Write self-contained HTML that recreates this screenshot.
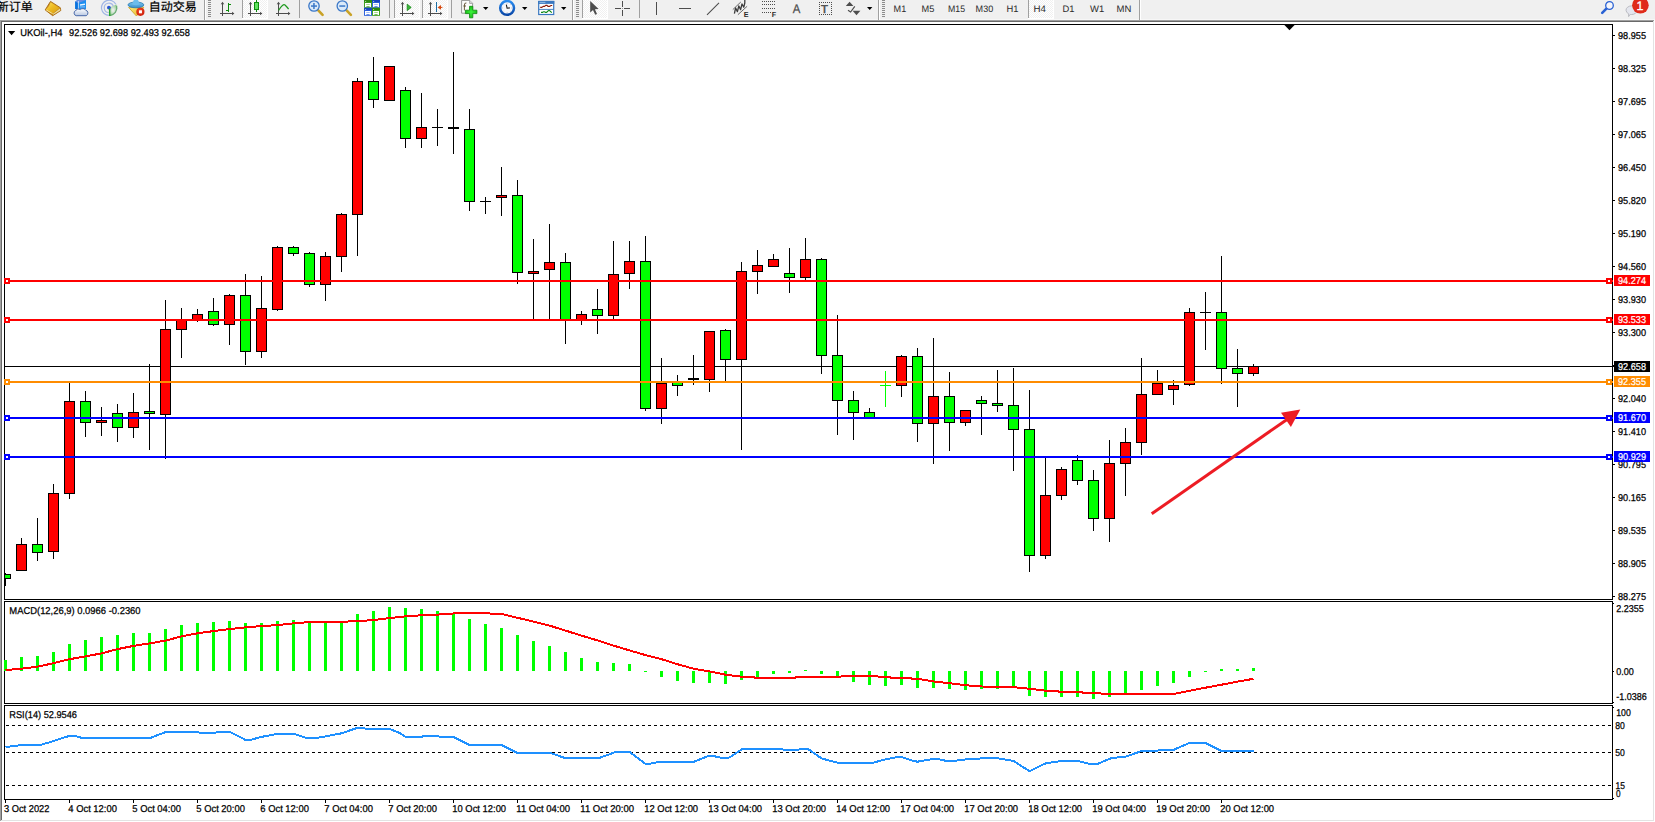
<!DOCTYPE html>
<html lang="zh"><head><meta charset="utf-8"><title>UKOil-,H4</title>
<style>
html,body{margin:0;padding:0;background:#f0f0f0;overflow:hidden}
body{width:1655px;height:822px;position:relative;font-family:"Liberation Sans", "Noto Sans CJK SC", sans-serif}
svg{position:absolute;left:0;top:0;display:block}
text{font-family:"Liberation Sans", "Noto Sans CJK SC", sans-serif;text-rendering:geometricPrecision}
.ax{font-size:9.9px;fill:#000;stroke:#000;stroke-width:0.25px}
.lb{font-size:9.9px;fill:#fff;stroke:#fff;stroke-width:0.2px}
.dt{font-size:9.9px;fill:#000;stroke:#000;stroke-width:0.25px}
.tf{font-size:9.4px;fill:#2a2a2a}
.cn{font-size:12px;fill:#000;stroke:#000;stroke-width:0.2px}
.ce{shape-rendering:crispEdges}
</style></head><body>
<div id="toolbar-strip" style="position:absolute;left:0;top:0;width:1655px;height:20px;overflow:hidden;background:#f0f0f0">
<svg id="toolbar-svg" width="1655" height="20" viewBox="0 0 1655 20">
<rect class="ce" x="0" y="19" width="1655" height="1" fill="#f7f7f7"/>
<g id="toolbar">
<text class="cn" x="-3.2" y="10.7">新订单</text>
<text class="cn" x="148.7" y="10.7">自动交易</text>
<defs><linearGradient id="gbook" x1="0" y1="0" x2="1" y2="1"><stop offset="0" stop-color="#fbe068"/><stop offset="0.45" stop-color="#eebc22"/><stop offset="1" stop-color="#d89a14"/></linearGradient><linearGradient id="gcloud" x1="0" y1="0" x2="0" y2="1"><stop offset="0" stop-color="#ffffff"/><stop offset="1" stop-color="#b9c8e2"/></linearGradient><radialGradient id="gsig" cx="0.5" cy="0.5" r="0.5"><stop offset="0.2" stop-color="#3aa83a" stop-opacity="0.05"/><stop offset="1" stop-color="#3aa83a" stop-opacity="0.5"/></radialGradient><linearGradient id="ghat" x1="0" y1="0" x2="0" y2="1"><stop offset="0" stop-color="#7cc4ee"/><stop offset="1" stop-color="#3a90cc"/></linearGradient><linearGradient id="gyel" x1="0" y1="0" x2="1" y2="1"><stop offset="0" stop-color="#fbe878"/><stop offset="1" stop-color="#e8b828"/></linearGradient><radialGradient id="gred" cx="0.45" cy="0.35" r="0.7"><stop offset="0" stop-color="#f44a28"/><stop offset="1" stop-color="#c81a08"/></radialGradient></defs>
<g id="ic-book"><path d="M50.5,1.4 L60.3,7.7 L60.8,10.5 L52.7,15.7 L45.2,9.9 Z" fill="#c48a18" stroke="#a8680e" stroke-width="0.9" stroke-linejoin="round"/><path d="M53.4,13.4 L60,8.6 L60.4,10.3 L52.8,15.1 Z" fill="#ecdca0"/><path d="M50.7,2.2 L59.6,7.9 L52.9,13.2 L46,9.6 Q49.4,6.4 50.7,2.2 Z" fill="url(#gbook)"/><path d="M46.2,9.9 L52.6,13.6" stroke="#fbe99a" stroke-width="1" fill="none"/></g>
<g id="ic-server"><path d="M75.2,1.6 L77.6,0 L86,0 L86,9 L75.2,9 Z" fill="#1e8ef0"/><path d="M75.2,1.6 L78.4,3 L78.4,9.4 L75.2,9 Z" fill="#0a72dc"/><path d="M75.2,1.6 L77.6,0 L86,0 L78.4,3 Z" fill="#6a8ee0"/><path d="M78.4,1 L78.4,9" stroke="#d8ecff" stroke-width="0.8"/><rect x="80" y="4" width="5" height="1.5" fill="#e8f4ff" transform="skewY(-8) translate(0,11.4)"/><rect x="80" y="6.4" width="5" height="1" fill="#8cc4f8"/><path d="M76.2,15.7 A2.8,2.8 0 0 1 75.8,10.4 A3.2,3 0 0 1 80.4,9.6 A3.2,3 0 0 1 85.6,10.2 A2.9,2.9 0 0 1 86.2,15.7 Z" fill="url(#gcloud)" stroke="#4868a8" stroke-width="1"/></g>
<g id="ic-signal" fill="none"><path d="M109,7.8 L109,15.9 A8.1,8.1 0 0 0 116.4,4.4 Z" fill="url(#gsig)"/><path d="M109,15.4 A7.6,7.6 0 1 1 115.8,4.2" stroke="#5f86dc" stroke-width="1.2" opacity="0.55"/><path d="M108.6,12.5 A4.7,4.7 0 1 1 113.3,6" stroke="#6a8cdc" stroke-width="1.2" opacity="0.55"/><path d="M109.6,15.6 A7.8,7.8 0 0 0 116.7,6" stroke="#4a9a5a" stroke-width="1.2" opacity="0.7"/><circle cx="108.9" cy="7.6" r="1.9" fill="#2c58d0" stroke="none"/><path d="M109.6,8.4 L109.7,15.9" stroke="#27a32c" stroke-width="1.4"/></g>
<g id="ic-expert"><path d="M128.6,7.4 L143.8,7.2 L140.8,11.6 L136.4,16 Z" fill="url(#gyel)" stroke="#c8a028" stroke-width="0.8" stroke-linejoin="round"/><ellipse cx="135.9" cy="4.9" rx="7.9" ry="2.9" fill="url(#ghat)" stroke="#2c7cb4" stroke-width="0.8"/><path d="M132.2,4.6 Q133,1.6 134,-0.6 L137.8,-0.6 Q138.8,1.6 139.6,4.6 Q135.9,5.8 132.2,4.6 Z" fill="#6cbcec"/><circle cx="140.4" cy="11.8" r="4.1" fill="url(#gred)"/><rect x="138.95" y="10.3" width="3" height="3" fill="#fff"/></g>
<defs><pattern id="chk" width="2" height="2" patternUnits="userSpaceOnUse"><rect width="2" height="2" fill="#ffffff"/><rect x="0" y="0" width="1" height="1" fill="#f0f0f0"/><rect x="1" y="1" width="1" height="1" fill="#f0f0f0"/></pattern></defs>
<rect class="ce" x="204" y="0" width="1" height="20" fill="#a0a0a0"/><rect class="ce" x="205" y="0" width="1" height="20" fill="#ffffff"/>
<g class="ce" fill="#8c8c8c"><rect x="208" y="0" width="3" height="1"/><rect x="208" y="2" width="3" height="1"/><rect x="208" y="4" width="3" height="1"/><rect x="208" y="6" width="3" height="1"/><rect x="208" y="8" width="3" height="1"/><rect x="208" y="10" width="3" height="1"/><rect x="208" y="12" width="3" height="1"/><rect x="208" y="14" width="3" height="1"/><rect x="208" y="16" width="3" height="1"/></g>
<g class="ce" fill="#4d4d4d"><rect x="222" y="3" width="1" height="13"/><rect x="220" y="13" width="14" height="1"/></g>
<polygon points="222.5,1.8 220.7,4.2 224.3,4.2" fill="#4d4d4d"/>
<polygon points="234.4,13.5 232.0,11.7 232.0,15.3" fill="#4d4d4d"/>
<g class="ce" fill="#0c8c0c"><rect x="228" y="3" width="1" height="9"/><rect x="229" y="4" width="2" height="1"/><rect x="226" y="10" width="2" height="1"/></g>
<g class="ce"><rect x="243" y="0" width="24" height="18" fill="url(#chk)"/><rect x="242" y="0" width="1" height="18" fill="#a0a0a0"/><rect x="267" y="0" width="1" height="19" fill="#fff"/><rect x="242" y="18" width="25" height="1" fill="#fff"/></g>
<g class="ce" fill="#4d4d4d"><rect x="250" y="3" width="1" height="13"/><rect x="248" y="13" width="14" height="1"/></g>
<polygon points="250.5,1.8 248.7,4.2 252.3,4.2" fill="#4d4d4d"/>
<polygon points="262.4,13.5 260.0,11.7 260.0,15.3" fill="#4d4d4d"/>
<g class="ce"><rect x="256" y="0" width="1" height="12" fill="#0c8c0c"/><rect x="254" y="2" width="5" height="8" fill="#0c8c0c"/><rect x="255" y="3" width="3" height="6" fill="#5fe25f"/></g>
<g class="ce" fill="#4d4d4d"><rect x="278" y="3" width="1" height="13"/><rect x="276" y="13" width="14" height="1"/></g>
<polygon points="278.5,1.8 276.7,4.2 280.3,4.2" fill="#4d4d4d"/>
<polygon points="290.4,13.5 288.0,11.7 288.0,15.3" fill="#4d4d4d"/>
<path d="M278.6,10.4 Q283,3.2 285,5 T288.6,9.2" fill="none" stroke="#1f9a1f" stroke-width="1.2"/>
<rect class="ce" x="299" y="0" width="1" height="18" fill="#a0a0a0"/>
<line x1="317.8" y1="9.8" x2="322.6" y2="14.8" stroke="#c9a227" stroke-width="2.6" stroke-linecap="round"/>
<circle cx="314.0" cy="6" r="5.2" fill="#dbeaf9" stroke="#3b78c8" stroke-width="1.3"/>
<rect x="311.0" y="5.3" width="6" height="1.5" fill="#3b78c8"/>
<rect x="313.2" y="3" width="1.5" height="6" fill="#3b78c8"/>
<line x1="346.1" y1="9.8" x2="350.9" y2="14.8" stroke="#c9a227" stroke-width="2.6" stroke-linecap="round"/>
<circle cx="342.3" cy="6" r="5.2" fill="#dbeaf9" stroke="#3b78c8" stroke-width="1.3"/>
<rect x="339.3" y="5.3" width="6" height="1.5" fill="#3b78c8"/>
<rect x="364" y="-0.2" width="8" height="8" fill="#3f9f1f"/><rect x="364" y="-0.2" width="8" height="2.4" fill="#2c8a0e"/>
<rect x="365.0" y="3.0" width="6" height="4" fill="#fff"/><rect x="366.2" y="4.2" width="3.6" height="0.8" fill="#8fd06a"/><rect x="366.4" y="6.3" width="3.2" height="0.9" fill="#3f9f1f"/><rect x="365.2" y="1.0" width="0.9" height="0.9" fill="#d8ecd0"/>
<rect x="372" y="-0.2" width="8" height="8" fill="#2f62dc"/><rect x="372" y="-0.2" width="8" height="2.4" fill="#1846c0"/>
<rect x="373.0" y="3.0" width="6" height="4" fill="#fff"/><rect x="374.2" y="4.2" width="3.6" height="0.8" fill="#8fb0f0"/><rect x="374.4" y="6.3" width="3.2" height="0.9" fill="#2f62dc"/><rect x="373.2" y="1.0" width="0.9" height="0.9" fill="#d8ecd0"/>
<rect x="364" y="7.8" width="8" height="8" fill="#2f62dc"/><rect x="364" y="7.8" width="8" height="2.4" fill="#1846c0"/>
<rect x="365.0" y="11.0" width="6" height="4" fill="#fff"/><rect x="366.2" y="12.2" width="3.6" height="0.8" fill="#8fb0f0"/><rect x="366.4" y="14.3" width="3.2" height="0.9" fill="#2f62dc"/><rect x="365.2" y="9.0" width="0.9" height="0.9" fill="#d8ecd0"/>
<rect x="372" y="7.8" width="8" height="8" fill="#3f9f1f"/><rect x="372" y="7.8" width="8" height="2.4" fill="#2c8a0e"/>
<rect x="373.0" y="11.0" width="6" height="4" fill="#fff"/><rect x="374.2" y="12.2" width="3.6" height="0.8" fill="#8fd06a"/><rect x="374.4" y="14.3" width="3.2" height="0.9" fill="#3f9f1f"/><rect x="373.2" y="9.0" width="0.9" height="0.9" fill="#d8ecd0"/>
<rect class="ce" x="389" y="0" width="1" height="18" fill="#a0a0a0"/>
<g class="ce"><rect x="395" y="0" width="24" height="18" fill="url(#chk)"/><rect x="394" y="0" width="1" height="18" fill="#a0a0a0"/><rect x="419" y="0" width="1" height="19" fill="#fff"/><rect x="394" y="18" width="25" height="1" fill="#fff"/></g>
<g class="ce" fill="#4d4d4d"><rect x="402" y="3" width="1" height="13"/><rect x="400" y="13" width="14" height="1"/></g>
<polygon points="402.5,1.8 400.7,4.2 404.3,4.2" fill="#4d4d4d"/>
<polygon points="414.4,13.5 412.0,11.7 412.0,15.3" fill="#4d4d4d"/>
<polygon points="407.2,4.2 407.2,10.6 411.2,7.4" fill="#39b539" stroke="#168a16" stroke-width="0.8"/>
<g class="ce"><rect x="423" y="0" width="24" height="18" fill="url(#chk)"/><rect x="422" y="0" width="1" height="18" fill="#a0a0a0"/><rect x="447" y="0" width="1" height="19" fill="#fff"/><rect x="422" y="18" width="25" height="1" fill="#fff"/></g>
<g class="ce" fill="#4d4d4d"><rect x="430" y="3" width="1" height="13"/><rect x="428" y="13" width="14" height="1"/></g>
<polygon points="430.5,1.8 428.7,4.2 432.3,4.2" fill="#4d4d4d"/>
<polygon points="442.4,13.5 440.0,11.7 440.0,15.3" fill="#4d4d4d"/>
<rect class="ce" x="436" y="2" width="1" height="10" fill="#1c6ea4"/>
<polygon points="437.6,7.4 441,5 441,9.8" fill="#d64a10"/><rect x="440" y="6.9" width="2.4" height="1" fill="#d64a10"/>
<rect class="ce" x="451" y="0" width="1" height="18" fill="#a0a0a0"/>
<path d="M461.6,0.4 L469.6,0.4 L472.6,3.4 L472.6,13.2 L461.6,13.2 z" fill="#fbfbfb" stroke="#8a8a8a" stroke-width="0.9"/><path d="M469.6,0.4 L469.6,3.4 L472.6,3.4" fill="#e0e0e0" stroke="#8a8a8a" stroke-width="0.7"/>
<path d="M466.4,3 Q464.4,2.6 464.4,5 L464.4,10.4 M463.4,6 L466,6" fill="none" stroke="#5a4a2a" stroke-width="0.9"/>
<defs><radialGradient id="gplus" cx="0.5" cy="0.5" r="0.6"><stop offset="0" stop-color="#3cf23c"/><stop offset="1" stop-color="#12b812"/></radialGradient><linearGradient id="gclock" x1="0" y1="0" x2="0" y2="1"><stop offset="0" stop-color="#2a8cf0"/><stop offset="1" stop-color="#0a48a8"/></linearGradient></defs>
<path d="M465.4,10.2 h4.1 v-3.9 h3.3 v3.9 h4.1 v3.4 h-4.1 v4.2 h-3.3 v-4.2 h-4.1 z" fill="url(#gplus)" stroke="#0c8a0c" stroke-width="0.8"/>
<polygon points="483.0,7 488.4,7 485.7,10" fill="#000"/>
<rect x="505.6" y="-1" width="3" height="2.4" fill="#1a78d8"/>
<circle cx="507.1" cy="7.9" r="6.9" fill="#f6f7fb" stroke="url(#gclock)" stroke-width="2.5"/>
<g fill="#9a9a9a"><circle cx="507.1" cy="3.4" r="0.45"/><circle cx="507.1" cy="12.4" r="0.45"/><circle cx="502.6" cy="7.9" r="0.45"/><circle cx="511.6" cy="7.9" r="0.45"/><circle cx="503.9" cy="4.7" r="0.35"/><circle cx="510.3" cy="4.7" r="0.35"/><circle cx="503.9" cy="11.1" r="0.35"/><circle cx="510.3" cy="11.1" r="0.35"/></g>
<path d="M506.3,4.6 L507.1,8.2 L509.8,7.9" fill="none" stroke="#1a1a1a" stroke-width="1.1"/>
<polygon points="522.0,7 527.4,7 524.7,10" fill="#000"/>
<rect x="538.7" y="1.5" width="15" height="13" fill="#fff" stroke="#3a78c0" stroke-width="1.2"/><rect x="538.1" y="0.9" width="16.2" height="3" fill="#3a78c0"/><rect x="539.4" y="1.9" width="6" height="0.8" fill="#a8ccf0"/>
<rect x="538.7" y="8.9" width="15" height="0.9" fill="#3a78c0"/>
<path d="M540.2,7.4 L541.8,7.4 L543.3,6.4 L544.5,6.4 L545.8,5.4 L547,5.4 L548,6.4 L549.5,6.4 L551,5.5 L552.2,5.5" fill="none" stroke="#8a1a0a" stroke-width="1.1"/>
<path d="M541,12.4 L542.5,12.4 L543.5,11.7 L544.5,11.7 L545.5,12.4 L546.5,12.4 L548,11 L549,10.4 L550,11 L551.8,12.6" fill="none" stroke="#108a18" stroke-width="1.1"/>
<polygon points="561.0,7 566.4,7 563.7,10" fill="#000"/>
<rect class="ce" x="572" y="0" width="1" height="20" fill="#a0a0a0"/><rect class="ce" x="573" y="0" width="1" height="20" fill="#ffffff"/>
<g class="ce" fill="#8c8c8c"><rect x="576" y="0" width="3" height="1"/><rect x="576" y="2" width="3" height="1"/><rect x="576" y="4" width="3" height="1"/><rect x="576" y="6" width="3" height="1"/><rect x="576" y="8" width="3" height="1"/><rect x="576" y="10" width="3" height="1"/><rect x="576" y="12" width="3" height="1"/><rect x="576" y="14" width="3" height="1"/><rect x="576" y="16" width="3" height="1"/></g>
<g class="ce"><rect x="583" y="0" width="24" height="18" fill="url(#chk)"/><rect x="582" y="0" width="1" height="18" fill="#a0a0a0"/><rect x="607" y="0" width="1" height="19" fill="#fff"/><rect x="582" y="18" width="25" height="1" fill="#fff"/></g>
<polygon points="590.2,1 590.2,12.6 593,10 595.2,14.8 597,14 594.9,9.3 598.6,9.1" fill="#4d4d4d"/>
<g class="ce" fill="#4d4d4d"><rect x="622" y="1" width="1" height="6"/><rect x="622" y="10" width="1" height="6"/><rect x="615" y="8" width="6" height="1"/><rect x="624" y="8" width="6" height="1"/><rect x="622" y="8" width="1" height="1" fill="#9a9a9a"/></g>
<rect class="ce" x="639" y="0" width="1" height="18" fill="#a0a0a0"/>
<rect class="ce" x="656" y="2" width="1" height="13" fill="#4d4d4d"/>
<rect class="ce" x="679" y="8" width="12" height="1" fill="#4d4d4d"/>
<line x1="707" y1="14.9" x2="719" y2="2.9" stroke="#4d4d4d" stroke-width="1.1"/>
<g fill="none"><line x1="732.8" y1="9.6" x2="740.8" y2="2" stroke="#6a6a6a" stroke-width="1"/><line x1="737.9" y1="14.7" x2="747.1" y2="6.3" stroke="#6a6a6a" stroke-width="1"/><path d="M734.4,13.6 L735.6,8 L737.4,11.6 L738.8,6 L740.6,9.6 L742,4 L743.8,7.2 L744.8,3 L744.8,0" stroke="#3c3c3c" stroke-width="1.3" stroke-linejoin="round"/></g>
<text x="743.7" y="16.9" font-size="7.2" font-weight="bold" fill="#2a2a2a">E</text>
<g stroke="#4d4d4d" stroke-width="1" stroke-dasharray="1,1" class="ce"><line x1="762" y1="1.5" x2="776" y2="1.5"/><line x1="762" y1="4.5" x2="776" y2="4.5"/><line x1="762" y1="8.5" x2="776" y2="8.5"/><line x1="762" y1="12.5" x2="772" y2="12.5"/></g>
<text x="771.7" y="16.9" font-size="7.2" font-weight="bold" fill="#2a2a2a">F</text>
<text x="792.8" y="13" font-size="12.4" fill="#4d4d4d" stroke="#4d4d4d" stroke-width="0.25" textLength="7.6" lengthAdjust="spacingAndGlyphs">A</text>
<g class="ce" fill="#4d4d4d"><rect x="819" y="2" width="1" height="1"/><rect x="819" y="14" width="1" height="1"/><rect x="821" y="2" width="1" height="1"/><rect x="821" y="14" width="1" height="1"/><rect x="823" y="2" width="1" height="1"/><rect x="823" y="14" width="1" height="1"/><rect x="825" y="2" width="1" height="1"/><rect x="825" y="14" width="1" height="1"/><rect x="827" y="2" width="1" height="1"/><rect x="827" y="14" width="1" height="1"/><rect x="829" y="2" width="1" height="1"/><rect x="829" y="14" width="1" height="1"/><rect x="831" y="2" width="1" height="1"/><rect x="831" y="14" width="1" height="1"/><rect x="819" y="4" width="1" height="1"/><rect x="831" y="4" width="1" height="1"/><rect x="819" y="6" width="1" height="1"/><rect x="831" y="6" width="1" height="1"/><rect x="819" y="8" width="1" height="1"/><rect x="831" y="8" width="1" height="1"/><rect x="819" y="10" width="1" height="1"/><rect x="831" y="10" width="1" height="1"/><rect x="819" y="12" width="1" height="1"/><rect x="831" y="12" width="1" height="1"/></g>
<text x="820.9" y="12.9" font-size="11.4" fill="#4d4d4d" stroke="#4d4d4d" stroke-width="0.55">T</text>
<g fill="#4d4d4d"><polygon points="849.6,1.8 853.4,6.1 845.8,6.1"/><polygon points="856.5,15.2 852.6,10.7 860.4,10.7"/></g><path d="M848,10.2 L850.6,12 L854.8,6.4" fill="none" stroke="#4d4d4d" stroke-width="1.2"/>
<polygon points="867.0,7 872.4,7 869.7,10" fill="#000"/>
<rect class="ce" x="878" y="0" width="1" height="20" fill="#a0a0a0"/><rect class="ce" x="879" y="0" width="1" height="20" fill="#ffffff"/>
<g class="ce" fill="#8c8c8c"><rect x="882" y="0" width="3" height="1"/><rect x="882" y="2" width="3" height="1"/><rect x="882" y="4" width="3" height="1"/><rect x="882" y="6" width="3" height="1"/><rect x="882" y="8" width="3" height="1"/><rect x="882" y="10" width="3" height="1"/><rect x="882" y="12" width="3" height="1"/><rect x="882" y="14" width="3" height="1"/><rect x="882" y="16" width="3" height="1"/></g>
<g class="ce"><rect x="1029" y="0" width="24" height="18" fill="url(#chk)"/><rect x="1028" y="0" width="1" height="18" fill="#a0a0a0"/><rect x="1053" y="0" width="1" height="19" fill="#fff"/><rect x="1028" y="18" width="25" height="1" fill="#fff"/></g>
<text class="tf" x="893.6" y="11.8" textLength="12.6" lengthAdjust="spacingAndGlyphs">M1</text>
<text class="tf" x="921.6" y="11.8" textLength="12.8" lengthAdjust="spacingAndGlyphs">M5</text>
<text class="tf" x="948.0" y="11.8" textLength="17.0" lengthAdjust="spacingAndGlyphs">M15</text>
<text class="tf" x="975.6" y="11.8" textLength="17.6" lengthAdjust="spacingAndGlyphs">M30</text>
<text class="tf" x="1006.4" y="11.8" textLength="12.0" lengthAdjust="spacingAndGlyphs">H1</text>
<text class="tf" x="1033.6" y="11.8" textLength="12.4" lengthAdjust="spacingAndGlyphs">H4</text>
<text class="tf" x="1062.4" y="11.8" textLength="12.0" lengthAdjust="spacingAndGlyphs">D1</text>
<text class="tf" x="1090.0" y="11.8" textLength="14.2" lengthAdjust="spacingAndGlyphs">W1</text>
<text class="tf" x="1116.6" y="11.8" textLength="14.8" lengthAdjust="spacingAndGlyphs">MN</text>
<rect class="ce" x="1139" y="0" width="1" height="20" fill="#a0a0a0"/><rect class="ce" x="1140" y="0" width="1" height="20" fill="#ffffff"/>
<line x1="1606.4" y1="8.6" x2="1602.2" y2="12.9" stroke="#2a62d4" stroke-width="2.6" stroke-linecap="round"/><circle cx="1609.5" cy="5.5" r="3.8" fill="#f6f6fa" stroke="#2a62d4" stroke-width="1.3"/>
<path d="M1626,10.2 a5.6,4.3 0 1 1 5.6,4.3 q-1,0 -1.4,-0.1 l-1.6,2.2 l0.1,-2.8 a4.6,4.3 0 0 1 -2.7,-3.6 z" fill="#e4e6ee" stroke="#b4b6bc" stroke-width="0.9"/>
<circle cx="1640.4" cy="5.3" r="8.3" fill="#df2b1a"/>
<text x="1636.6" y="10" font-size="12.4" fill="#fff" stroke="#fff" stroke-width="0.3">1</text>
</g>
</svg></div>
<div id="chart-window" style="position:absolute;left:0;top:20px;width:1655px;height:802px;overflow:hidden;background:#fff">
<svg id="chart" width="1655" height="802" viewBox="0 20 1655 802">
<g class="ce">
<rect x="0" y="20" width="1655" height="802" fill="#ffffff"/>
<rect x="0" y="20" width="1654" height="1" fill="#a0a0a0"/>
<rect x="0" y="20" width="1" height="801" fill="#a0a0a0"/>
<rect x="1" y="21" width="1652" height="1" fill="#696969"/>
<rect x="1" y="21" width="1" height="799" fill="#696969"/>
<rect x="1653" y="21" width="1" height="800" fill="#e3e3e3"/>
<rect x="1" y="820" width="1653" height="1" fill="#e3e3e3"/>
</g>
<g class="ce" fill="#000">
<rect x="4" y="24" width="1" height="776"/>
<rect x="1612" y="24" width="1" height="776"/>
<rect x="4" y="24" width="1609" height="1"/>
<rect x="4" y="599" width="1609" height="1"/>
<rect x="4" y="601" width="1609" height="1"/>
<rect x="4" y="703" width="1609" height="1"/>
<rect x="4" y="705" width="1609" height="1"/>
<rect x="4" y="799" width="1609" height="1"/>
<rect x="4" y="600" width="1609" height="1" fill="#fff"/>
<rect x="4" y="704" width="1609" height="1" fill="#fff"/>
</g>
<polygon points="1284.4,25 1294.6,25 1289.5,30.2" fill="#000"/>
<rect class="ce" x="5" y="366" width="1609" height="1" fill="#000"/>
<g class="ce" id="candles">
<clipPath id="cp"><rect x="5" y="25" width="1607" height="574"/></clipPath>
<g clip-path="url(#cp)">
<rect x="5" y="573" width="1" height="13" fill="#000"/>
<rect x="0" y="574" width="11" height="5" fill="#000"/>
<rect x="1" y="575" width="9" height="3" fill="#00ff00"/>
<rect x="21" y="538" width="1" height="33" fill="#000"/>
<rect x="16" y="544" width="11" height="27" fill="#000"/>
<rect x="17" y="545" width="9" height="25" fill="#ff0000"/>
<rect x="37" y="518" width="1" height="43" fill="#000"/>
<rect x="32" y="544" width="11" height="9" fill="#000"/>
<rect x="33" y="545" width="9" height="7" fill="#00ff00"/>
<rect x="53" y="484" width="1" height="75" fill="#000"/>
<rect x="48" y="493" width="11" height="59" fill="#000"/>
<rect x="49" y="494" width="9" height="57" fill="#ff0000"/>
<rect x="69" y="383" width="1" height="116" fill="#000"/>
<rect x="64" y="401" width="11" height="93" fill="#000"/>
<rect x="65" y="402" width="9" height="91" fill="#ff0000"/>
<rect x="85" y="391" width="1" height="46" fill="#000"/>
<rect x="80" y="401" width="11" height="22" fill="#000"/>
<rect x="81" y="402" width="9" height="20" fill="#00ff00"/>
<rect x="101" y="407" width="1" height="29" fill="#000"/>
<rect x="96" y="420" width="11" height="3" fill="#000"/>
<rect x="97" y="421" width="9" height="1" fill="#ff0000"/>
<rect x="117" y="404" width="1" height="38" fill="#000"/>
<rect x="112" y="413" width="11" height="15" fill="#000"/>
<rect x="113" y="414" width="9" height="13" fill="#00ff00"/>
<rect x="133" y="393" width="1" height="45" fill="#000"/>
<rect x="128" y="412" width="11" height="16" fill="#000"/>
<rect x="129" y="413" width="9" height="14" fill="#ff0000"/>
<rect x="149" y="364" width="1" height="86" fill="#000"/>
<rect x="144" y="411" width="11" height="3" fill="#000"/>
<rect x="145" y="412" width="9" height="1" fill="#00ff00"/>
<rect x="165" y="300" width="1" height="159" fill="#000"/>
<rect x="160" y="329" width="11" height="86" fill="#000"/>
<rect x="161" y="330" width="9" height="84" fill="#ff0000"/>
<rect x="181" y="308" width="1" height="50" fill="#000"/>
<rect x="176" y="320" width="11" height="10" fill="#000"/>
<rect x="177" y="321" width="9" height="8" fill="#ff0000"/>
<rect x="197" y="309" width="1" height="13" fill="#000"/>
<rect x="192" y="314" width="11" height="7" fill="#000"/>
<rect x="193" y="315" width="9" height="5" fill="#ff0000"/>
<rect x="213" y="298" width="1" height="28" fill="#000"/>
<rect x="208" y="311" width="11" height="14" fill="#000"/>
<rect x="209" y="312" width="9" height="12" fill="#00ff00"/>
<rect x="229" y="294" width="1" height="51" fill="#000"/>
<rect x="224" y="295" width="11" height="30" fill="#000"/>
<rect x="225" y="296" width="9" height="28" fill="#ff0000"/>
<rect x="245" y="274" width="1" height="91" fill="#000"/>
<rect x="240" y="295" width="11" height="57" fill="#000"/>
<rect x="241" y="296" width="9" height="55" fill="#00ff00"/>
<rect x="261" y="276" width="1" height="82" fill="#000"/>
<rect x="256" y="308" width="11" height="44" fill="#000"/>
<rect x="257" y="309" width="9" height="42" fill="#ff0000"/>
<rect x="277" y="246" width="1" height="65" fill="#000"/>
<rect x="272" y="247" width="11" height="63" fill="#000"/>
<rect x="273" y="248" width="9" height="61" fill="#ff0000"/>
<rect x="293" y="246" width="1" height="10" fill="#000"/>
<rect x="288" y="247" width="11" height="7" fill="#000"/>
<rect x="289" y="248" width="9" height="5" fill="#00ff00"/>
<rect x="309" y="252" width="1" height="35" fill="#000"/>
<rect x="304" y="253" width="11" height="32" fill="#000"/>
<rect x="305" y="254" width="9" height="30" fill="#00ff00"/>
<rect x="325" y="252" width="1" height="49" fill="#000"/>
<rect x="320" y="256" width="11" height="29" fill="#000"/>
<rect x="321" y="257" width="9" height="27" fill="#ff0000"/>
<rect x="341" y="213" width="1" height="59" fill="#000"/>
<rect x="336" y="214" width="11" height="43" fill="#000"/>
<rect x="337" y="215" width="9" height="41" fill="#ff0000"/>
<rect x="357" y="78" width="1" height="178" fill="#000"/>
<rect x="352" y="81" width="11" height="134" fill="#000"/>
<rect x="353" y="82" width="9" height="132" fill="#ff0000"/>
<rect x="373" y="57" width="1" height="51" fill="#000"/>
<rect x="368" y="81" width="11" height="19" fill="#000"/>
<rect x="369" y="82" width="9" height="17" fill="#00ff00"/>
<rect x="389" y="66" width="1" height="35" fill="#000"/>
<rect x="384" y="66" width="11" height="35" fill="#000"/>
<rect x="385" y="67" width="9" height="33" fill="#ff0000"/>
<rect x="405" y="87" width="1" height="61" fill="#000"/>
<rect x="400" y="90" width="11" height="49" fill="#000"/>
<rect x="401" y="91" width="9" height="47" fill="#00ff00"/>
<rect x="421" y="93" width="1" height="55" fill="#000"/>
<rect x="416" y="127" width="11" height="12" fill="#000"/>
<rect x="417" y="128" width="9" height="10" fill="#ff0000"/>
<rect x="437" y="109" width="1" height="37" fill="#000"/>
<rect x="432" y="127" width="11" height="1" fill="#000"/>
<rect x="453" y="52" width="1" height="102" fill="#000"/>
<rect x="448" y="127" width="11" height="2" fill="#000"/>
<rect x="469" y="109" width="1" height="102" fill="#000"/>
<rect x="464" y="129" width="11" height="73" fill="#000"/>
<rect x="465" y="130" width="9" height="71" fill="#00ff00"/>
<rect x="485" y="197" width="1" height="17" fill="#000"/>
<rect x="480" y="201" width="11" height="1" fill="#000"/>
<rect x="501" y="167" width="1" height="49" fill="#000"/>
<rect x="496" y="195" width="11" height="3" fill="#000"/>
<rect x="497" y="196" width="9" height="1" fill="#ff0000"/>
<rect x="517" y="180" width="1" height="104" fill="#000"/>
<rect x="512" y="195" width="11" height="78" fill="#000"/>
<rect x="513" y="196" width="9" height="76" fill="#00ff00"/>
<rect x="533" y="239" width="1" height="80" fill="#000"/>
<rect x="528" y="271" width="11" height="3" fill="#000"/>
<rect x="529" y="272" width="9" height="1" fill="#ff0000"/>
<rect x="549" y="224" width="1" height="95" fill="#000"/>
<rect x="544" y="262" width="11" height="8" fill="#000"/>
<rect x="545" y="263" width="9" height="6" fill="#ff0000"/>
<rect x="565" y="253" width="1" height="91" fill="#000"/>
<rect x="560" y="262" width="11" height="58" fill="#000"/>
<rect x="561" y="263" width="9" height="56" fill="#00ff00"/>
<rect x="581" y="311" width="1" height="14" fill="#000"/>
<rect x="576" y="314" width="11" height="6" fill="#000"/>
<rect x="577" y="315" width="9" height="4" fill="#ff0000"/>
<rect x="597" y="289" width="1" height="45" fill="#000"/>
<rect x="592" y="309" width="11" height="7" fill="#000"/>
<rect x="593" y="310" width="9" height="5" fill="#00ff00"/>
<rect x="613" y="241" width="1" height="78" fill="#000"/>
<rect x="608" y="274" width="11" height="42" fill="#000"/>
<rect x="609" y="275" width="9" height="40" fill="#ff0000"/>
<rect x="629" y="241" width="1" height="48" fill="#000"/>
<rect x="624" y="261" width="11" height="13" fill="#000"/>
<rect x="625" y="262" width="9" height="11" fill="#ff0000"/>
<rect x="645" y="236" width="1" height="175" fill="#000"/>
<rect x="640" y="261" width="11" height="148" fill="#000"/>
<rect x="641" y="262" width="9" height="146" fill="#00ff00"/>
<rect x="661" y="358" width="1" height="66" fill="#000"/>
<rect x="656" y="383" width="11" height="26" fill="#000"/>
<rect x="657" y="384" width="9" height="24" fill="#ff0000"/>
<rect x="677" y="375" width="1" height="21" fill="#000"/>
<rect x="672" y="382" width="11" height="4" fill="#000"/>
<rect x="673" y="383" width="9" height="2" fill="#00ff00"/>
<rect x="693" y="355" width="1" height="30" fill="#000"/>
<rect x="688" y="378" width="11" height="2" fill="#000"/>
<rect x="709" y="331" width="1" height="61" fill="#000"/>
<rect x="704" y="331" width="11" height="49" fill="#000"/>
<rect x="705" y="332" width="9" height="47" fill="#ff0000"/>
<rect x="725" y="329" width="1" height="52" fill="#000"/>
<rect x="720" y="330" width="11" height="30" fill="#000"/>
<rect x="721" y="331" width="9" height="28" fill="#00ff00"/>
<rect x="741" y="262" width="1" height="188" fill="#000"/>
<rect x="736" y="271" width="11" height="89" fill="#000"/>
<rect x="737" y="272" width="9" height="87" fill="#ff0000"/>
<rect x="757" y="250" width="1" height="44" fill="#000"/>
<rect x="752" y="265" width="11" height="7" fill="#000"/>
<rect x="753" y="266" width="9" height="5" fill="#ff0000"/>
<rect x="773" y="254" width="1" height="13" fill="#000"/>
<rect x="768" y="259" width="11" height="8" fill="#000"/>
<rect x="769" y="260" width="9" height="6" fill="#ff0000"/>
<rect x="789" y="248" width="1" height="45" fill="#000"/>
<rect x="784" y="273" width="11" height="5" fill="#000"/>
<rect x="785" y="274" width="9" height="3" fill="#00ff00"/>
<rect x="805" y="238" width="1" height="42" fill="#000"/>
<rect x="800" y="259" width="11" height="19" fill="#000"/>
<rect x="801" y="260" width="9" height="17" fill="#ff0000"/>
<rect x="821" y="258" width="1" height="116" fill="#000"/>
<rect x="816" y="259" width="11" height="97" fill="#000"/>
<rect x="817" y="260" width="9" height="95" fill="#00ff00"/>
<rect x="837" y="315" width="1" height="120" fill="#000"/>
<rect x="832" y="355" width="11" height="46" fill="#000"/>
<rect x="833" y="356" width="9" height="44" fill="#00ff00"/>
<rect x="853" y="391" width="1" height="49" fill="#000"/>
<rect x="848" y="400" width="11" height="13" fill="#000"/>
<rect x="849" y="401" width="9" height="11" fill="#00ff00"/>
<rect x="869" y="408" width="1" height="10" fill="#000"/>
<rect x="864" y="412" width="11" height="6" fill="#000"/>
<rect x="865" y="413" width="9" height="4" fill="#00ff00"/>
<rect x="885" y="371" width="1" height="36" fill="#00ff00"/>
<rect x="880" y="385" width="11" height="1" fill="#00ff00"/>
<rect x="901" y="355" width="1" height="42" fill="#000"/>
<rect x="896" y="356" width="11" height="30" fill="#000"/>
<rect x="897" y="357" width="9" height="28" fill="#ff0000"/>
<rect x="917" y="348" width="1" height="94" fill="#000"/>
<rect x="912" y="356" width="11" height="68" fill="#000"/>
<rect x="913" y="357" width="9" height="66" fill="#00ff00"/>
<rect x="933" y="338" width="1" height="126" fill="#000"/>
<rect x="928" y="396" width="11" height="28" fill="#000"/>
<rect x="929" y="397" width="9" height="26" fill="#ff0000"/>
<rect x="949" y="372" width="1" height="79" fill="#000"/>
<rect x="944" y="396" width="11" height="27" fill="#000"/>
<rect x="945" y="397" width="9" height="25" fill="#00ff00"/>
<rect x="965" y="410" width="1" height="16" fill="#000"/>
<rect x="960" y="410" width="11" height="13" fill="#000"/>
<rect x="961" y="411" width="9" height="11" fill="#ff0000"/>
<rect x="981" y="396" width="1" height="39" fill="#000"/>
<rect x="976" y="400" width="11" height="4" fill="#000"/>
<rect x="977" y="401" width="9" height="2" fill="#00ff00"/>
<rect x="997" y="370" width="1" height="42" fill="#000"/>
<rect x="992" y="403" width="11" height="3" fill="#000"/>
<rect x="993" y="404" width="9" height="1" fill="#00ff00"/>
<rect x="1013" y="368" width="1" height="103" fill="#000"/>
<rect x="1008" y="405" width="11" height="25" fill="#000"/>
<rect x="1009" y="406" width="9" height="23" fill="#00ff00"/>
<rect x="1029" y="390" width="1" height="182" fill="#000"/>
<rect x="1024" y="429" width="11" height="127" fill="#000"/>
<rect x="1025" y="430" width="9" height="125" fill="#00ff00"/>
<rect x="1045" y="458" width="1" height="101" fill="#000"/>
<rect x="1040" y="495" width="11" height="61" fill="#000"/>
<rect x="1041" y="496" width="9" height="59" fill="#ff0000"/>
<rect x="1061" y="467" width="1" height="33" fill="#000"/>
<rect x="1056" y="469" width="11" height="27" fill="#000"/>
<rect x="1057" y="470" width="9" height="25" fill="#ff0000"/>
<rect x="1077" y="455" width="1" height="30" fill="#000"/>
<rect x="1072" y="460" width="11" height="21" fill="#000"/>
<rect x="1073" y="461" width="9" height="19" fill="#00ff00"/>
<rect x="1093" y="470" width="1" height="61" fill="#000"/>
<rect x="1088" y="480" width="11" height="39" fill="#000"/>
<rect x="1089" y="481" width="9" height="37" fill="#00ff00"/>
<rect x="1109" y="440" width="1" height="102" fill="#000"/>
<rect x="1104" y="463" width="11" height="56" fill="#000"/>
<rect x="1105" y="464" width="9" height="54" fill="#ff0000"/>
<rect x="1125" y="428" width="1" height="68" fill="#000"/>
<rect x="1120" y="442" width="11" height="22" fill="#000"/>
<rect x="1121" y="443" width="9" height="20" fill="#ff0000"/>
<rect x="1141" y="358" width="1" height="97" fill="#000"/>
<rect x="1136" y="394" width="11" height="49" fill="#000"/>
<rect x="1137" y="395" width="9" height="47" fill="#ff0000"/>
<rect x="1157" y="370" width="1" height="25" fill="#000"/>
<rect x="1152" y="383" width="11" height="12" fill="#000"/>
<rect x="1153" y="384" width="9" height="10" fill="#ff0000"/>
<rect x="1173" y="380" width="1" height="25" fill="#000"/>
<rect x="1168" y="385" width="11" height="5" fill="#000"/>
<rect x="1169" y="386" width="9" height="3" fill="#ff0000"/>
<rect x="1189" y="308" width="1" height="78" fill="#000"/>
<rect x="1184" y="312" width="11" height="73" fill="#000"/>
<rect x="1185" y="313" width="9" height="71" fill="#ff0000"/>
<rect x="1205" y="292" width="1" height="58" fill="#000"/>
<rect x="1200" y="312" width="11" height="1" fill="#000"/>
<rect x="1221" y="256" width="1" height="128" fill="#000"/>
<rect x="1216" y="312" width="11" height="57" fill="#000"/>
<rect x="1217" y="313" width="9" height="55" fill="#00ff00"/>
<rect x="1237" y="349" width="1" height="58" fill="#000"/>
<rect x="1232" y="368" width="11" height="6" fill="#000"/>
<rect x="1233" y="369" width="9" height="4" fill="#00ff00"/>
<rect x="1253" y="364" width="1" height="12" fill="#000"/>
<rect x="1248" y="366" width="11" height="8" fill="#000"/>
<rect x="1249" y="367" width="9" height="6" fill="#ff0000"/>
</g></g>
<g class="ce" id="hlines">
<rect x="5" y="280" width="1608" height="2" fill="#ff0000"/>
<rect x="4" y="278" width="6" height="6" fill="#ff0000"/>
<rect x="6" y="280" width="2" height="2" fill="#fff"/>
<rect x="1606" y="278" width="6" height="6" fill="#ff0000"/>
<rect x="1608" y="280" width="2" height="2" fill="#fff"/>
<rect x="5" y="319" width="1608" height="2" fill="#ff0000"/>
<rect x="4" y="317" width="6" height="6" fill="#ff0000"/>
<rect x="6" y="319" width="2" height="2" fill="#fff"/>
<rect x="1606" y="317" width="6" height="6" fill="#ff0000"/>
<rect x="1608" y="319" width="2" height="2" fill="#fff"/>
<rect x="5" y="381" width="1608" height="2" fill="#ff8c00"/>
<rect x="4" y="379" width="6" height="6" fill="#ff8c00"/>
<rect x="6" y="381" width="2" height="2" fill="#fff"/>
<rect x="1606" y="379" width="6" height="6" fill="#ff8c00"/>
<rect x="1608" y="381" width="2" height="2" fill="#fff"/>
<rect x="5" y="417" width="1608" height="2" fill="#0000ff"/>
<rect x="4" y="415" width="6" height="6" fill="#0000ff"/>
<rect x="6" y="417" width="2" height="2" fill="#fff"/>
<rect x="1606" y="415" width="6" height="6" fill="#0000ff"/>
<rect x="1608" y="417" width="2" height="2" fill="#fff"/>
<rect x="5" y="456" width="1608" height="2" fill="#0000ff"/>
<rect x="4" y="454" width="6" height="6" fill="#0000ff"/>
<rect x="6" y="456" width="2" height="2" fill="#fff"/>
<rect x="1606" y="454" width="6" height="6" fill="#0000ff"/>
<rect x="1608" y="456" width="2" height="2" fill="#fff"/>
</g>
<g id="paxis">
<rect class="ce" x="1613" y="35" width="2" height="1" fill="#000"/>
<text class="ax" x="1618" y="39.0" textLength="28" lengthAdjust="spacingAndGlyphs">98.955</text>
<rect class="ce" x="1613" y="68" width="2" height="1" fill="#000"/>
<text class="ax" x="1618" y="72.0" textLength="28" lengthAdjust="spacingAndGlyphs">98.325</text>
<rect class="ce" x="1613" y="101" width="2" height="1" fill="#000"/>
<text class="ax" x="1618" y="105.0" textLength="28" lengthAdjust="spacingAndGlyphs">97.695</text>
<rect class="ce" x="1613" y="134" width="2" height="1" fill="#000"/>
<text class="ax" x="1618" y="138.0" textLength="28" lengthAdjust="spacingAndGlyphs">97.065</text>
<rect class="ce" x="1613" y="167" width="2" height="1" fill="#000"/>
<text class="ax" x="1618" y="171.0" textLength="28" lengthAdjust="spacingAndGlyphs">96.450</text>
<rect class="ce" x="1613" y="200" width="2" height="1" fill="#000"/>
<text class="ax" x="1618" y="204.0" textLength="28" lengthAdjust="spacingAndGlyphs">95.820</text>
<rect class="ce" x="1613" y="233" width="2" height="1" fill="#000"/>
<text class="ax" x="1618" y="237.0" textLength="28" lengthAdjust="spacingAndGlyphs">95.190</text>
<rect class="ce" x="1613" y="266" width="2" height="1" fill="#000"/>
<text class="ax" x="1618" y="270.0" textLength="28" lengthAdjust="spacingAndGlyphs">94.560</text>
<rect class="ce" x="1613" y="299" width="2" height="1" fill="#000"/>
<text class="ax" x="1618" y="303.0" textLength="28" lengthAdjust="spacingAndGlyphs">93.930</text>
<rect class="ce" x="1613" y="332" width="2" height="1" fill="#000"/>
<text class="ax" x="1618" y="336.0" textLength="28" lengthAdjust="spacingAndGlyphs">93.300</text>
<rect class="ce" x="1613" y="365" width="2" height="1" fill="#000"/>
<text class="ax" x="1618" y="369.0" textLength="28" lengthAdjust="spacingAndGlyphs">92.670</text>
<rect class="ce" x="1613" y="398" width="2" height="1" fill="#000"/>
<text class="ax" x="1618" y="402.0" textLength="28" lengthAdjust="spacingAndGlyphs">92.040</text>
<rect class="ce" x="1613" y="431" width="2" height="1" fill="#000"/>
<text class="ax" x="1618" y="435.0" textLength="28" lengthAdjust="spacingAndGlyphs">91.410</text>
<rect class="ce" x="1613" y="464" width="2" height="1" fill="#000"/>
<text class="ax" x="1618" y="468.0" textLength="28" lengthAdjust="spacingAndGlyphs">90.795</text>
<rect class="ce" x="1613" y="497" width="2" height="1" fill="#000"/>
<text class="ax" x="1618" y="501.0" textLength="28" lengthAdjust="spacingAndGlyphs">90.165</text>
<rect class="ce" x="1613" y="530" width="2" height="1" fill="#000"/>
<text class="ax" x="1618" y="534.0" textLength="28" lengthAdjust="spacingAndGlyphs">89.535</text>
<rect class="ce" x="1613" y="563" width="2" height="1" fill="#000"/>
<text class="ax" x="1618" y="567.0" textLength="28" lengthAdjust="spacingAndGlyphs">88.905</text>
<rect class="ce" x="1613" y="596" width="2" height="1" fill="#000"/>
<text class="ax" x="1618" y="600.0" textLength="28" lengthAdjust="spacingAndGlyphs">88.275</text>
</g>
<g id="plabels">
<rect class="ce" x="1614" y="275" width="36" height="11" fill="#ff0000"/>
<text class="lb" x="1618" y="284.0" textLength="28" lengthAdjust="spacingAndGlyphs">94.274</text>
<rect class="ce" x="1614" y="314" width="36" height="11" fill="#ff0000"/>
<text class="lb" x="1618" y="323.0" textLength="28" lengthAdjust="spacingAndGlyphs">93.533</text>
<rect class="ce" x="1614" y="361" width="36" height="11" fill="#000000"/>
<text class="lb" x="1618" y="370.0" textLength="28" lengthAdjust="spacingAndGlyphs">92.658</text>
<rect class="ce" x="1614" y="376" width="36" height="11" fill="#ff8c00"/>
<text class="lb" x="1618" y="385.0" textLength="28" lengthAdjust="spacingAndGlyphs">92.355</text>
<rect class="ce" x="1614" y="412" width="36" height="11" fill="#0000ff"/>
<text class="lb" x="1618" y="421.0" textLength="28" lengthAdjust="spacingAndGlyphs">91.670</text>
<rect class="ce" x="1614" y="451" width="36" height="11" fill="#0000ff"/>
<text class="lb" x="1618" y="460.0" textLength="28" lengthAdjust="spacingAndGlyphs">90.929</text>
</g>
<polygon points="8,31 15.2,31 11.6,35.3" fill="#000"/>
<text class="ax" x="20.2" y="36" textLength="42.2" lengthAdjust="spacingAndGlyphs">UKOil-,H4</text>
<text class="ax" x="69" y="36" textLength="120.8" lengthAdjust="spacingAndGlyphs">92.526 92.698 92.493 92.658</text>
<g class="ce" id="macd" fill="#00ff00">
<rect x="4" y="660" width="3" height="11"/>
<rect x="20" y="657" width="3" height="14"/>
<rect x="36" y="656" width="3" height="15"/>
<rect x="52" y="652" width="3" height="19"/>
<rect x="68" y="644" width="3" height="27"/>
<rect x="84" y="640" width="3" height="31"/>
<rect x="100" y="637" width="3" height="34"/>
<rect x="116" y="635" width="3" height="36"/>
<rect x="132" y="633" width="3" height="38"/>
<rect x="148" y="633" width="3" height="38"/>
<rect x="164" y="629" width="3" height="42"/>
<rect x="180" y="625" width="3" height="46"/>
<rect x="196" y="623" width="3" height="48"/>
<rect x="212" y="622" width="3" height="49"/>
<rect x="228" y="621" width="3" height="50"/>
<rect x="244" y="623" width="3" height="48"/>
<rect x="260" y="623" width="3" height="48"/>
<rect x="276" y="621" width="3" height="50"/>
<rect x="292" y="620" width="3" height="51"/>
<rect x="308" y="622" width="3" height="49"/>
<rect x="324" y="622" width="3" height="49"/>
<rect x="340" y="622" width="3" height="49"/>
<rect x="356" y="614" width="3" height="57"/>
<rect x="372" y="611" width="3" height="60"/>
<rect x="388" y="607" width="3" height="64"/>
<rect x="404" y="608" width="3" height="63"/>
<rect x="420" y="609" width="3" height="62"/>
<rect x="436" y="611" width="3" height="60"/>
<rect x="452" y="613" width="3" height="58"/>
<rect x="468" y="619" width="3" height="52"/>
<rect x="484" y="624" width="3" height="47"/>
<rect x="500" y="628" width="3" height="43"/>
<rect x="516" y="635" width="3" height="36"/>
<rect x="532" y="641" width="3" height="30"/>
<rect x="548" y="646" width="3" height="25"/>
<rect x="564" y="652" width="3" height="19"/>
<rect x="580" y="658" width="3" height="13"/>
<rect x="596" y="662" width="3" height="9"/>
<rect x="612" y="663" width="3" height="8"/>
<rect x="628" y="664" width="3" height="7"/>
<rect x="644" y="671" width="3" height="1"/>
<rect x="660" y="671" width="3" height="6"/>
<rect x="676" y="671" width="3" height="10"/>
<rect x="692" y="671" width="3" height="12"/>
<rect x="708" y="671" width="3" height="12"/>
<rect x="724" y="671" width="3" height="13"/>
<rect x="740" y="671" width="3" height="9"/>
<rect x="756" y="671" width="3" height="6"/>
<rect x="772" y="671" width="3" height="3"/>
<rect x="788" y="671" width="3" height="2"/>
<rect x="804" y="670" width="3" height="1"/>
<rect x="820" y="671" width="3" height="3"/>
<rect x="836" y="671" width="3" height="6"/>
<rect x="852" y="671" width="3" height="11"/>
<rect x="868" y="671" width="3" height="14"/>
<rect x="884" y="671" width="3" height="15"/>
<rect x="900" y="671" width="3" height="14"/>
<rect x="916" y="671" width="3" height="17"/>
<rect x="932" y="671" width="3" height="17"/>
<rect x="948" y="671" width="3" height="18"/>
<rect x="964" y="671" width="3" height="19"/>
<rect x="980" y="671" width="3" height="18"/>
<rect x="996" y="671" width="3" height="18"/>
<rect x="1012" y="671" width="3" height="17"/>
<rect x="1028" y="671" width="3" height="25"/>
<rect x="1044" y="671" width="3" height="26"/>
<rect x="1060" y="671" width="3" height="26"/>
<rect x="1076" y="671" width="3" height="26"/>
<rect x="1092" y="671" width="3" height="28"/>
<rect x="1108" y="671" width="3" height="26"/>
<rect x="1124" y="671" width="3" height="22"/>
<rect x="1140" y="671" width="3" height="19"/>
<rect x="1156" y="671" width="3" height="15"/>
<rect x="1172" y="671" width="3" height="12"/>
<rect x="1188" y="671" width="3" height="6"/>
<rect x="1204" y="671" width="3" height="1"/>
<rect x="1220" y="669" width="3" height="2"/>
<rect x="1236" y="669" width="3" height="2"/>
<rect x="1252" y="668" width="3" height="3"/>
</g>
<clipPath id="cpm"><rect x="5" y="602" width="1607" height="101"/></clipPath>
<polyline class="ce" clip-path="url(#cpm)" points="5.5,670.0 21.5,668.7 37.5,666.7 53.5,663.2 69.5,659.2 85.5,656.4 101.5,653.4 117.5,649.1 133.5,645.9 149.5,643.4 165.5,640.6 181.5,636.4 197.5,633.3 213.5,631.1 229.5,629.1 245.5,627.3 261.5,626.1 277.5,625.1 293.5,623.3 309.5,622.1 325.5,622.1 341.5,621.8 357.5,621.1 373.5,620.1 389.5,618.1 405.5,616.3 421.5,615.3 437.5,614.6 453.5,613.5 469.5,613.0 485.5,613.3 501.5,614.0 517.5,617.8 533.5,621.6 549.5,625.6 565.5,630.6 581.5,635.6 597.5,640.4 613.5,645.6 629.5,650.4 645.5,655.1 661.5,659.2 677.5,664.2 693.5,668.7 709.5,671.4 725.5,674.7 741.5,676.7 757.5,677.7 773.5,677.7 789.5,677.7 805.5,677.2 821.5,677.0 837.5,676.7 853.5,675.9 869.5,675.7 885.5,677.2 901.5,678.2 917.5,678.7 933.5,681.5 949.5,683.2 965.5,685.2 981.5,686.5 997.5,686.7 1013.5,687.2 1029.5,688.7 1045.5,690.7 1061.5,691.7 1077.5,692.2 1093.5,693.2 1109.5,693.9 1125.5,694.0 1141.5,694.0 1157.5,694.0 1173.5,694.0 1189.5,690.8 1205.5,687.7 1221.5,684.7 1237.5,681.6 1253.5,678.8" fill="none" stroke="#ff0000" stroke-width="2" stroke-linejoin="round"/>
<text class="ax" x="9.3" y="614.2" textLength="131.3" lengthAdjust="spacingAndGlyphs">MACD(12,26,9) 0.0966 -0.2360</text>
<text class="ax" x="1616.2" y="612.0" textLength="27.6" lengthAdjust="spacingAndGlyphs">2.2355</text>
<text class="ax" x="1616.2" y="674.7" textLength="17.6" lengthAdjust="spacingAndGlyphs">0.00</text>
<text class="ax" x="1616.2" y="700.3" textLength="30.6" lengthAdjust="spacingAndGlyphs">-1.0386</text>
<rect class="ce" x="1613" y="603" width="1" height="1" fill="#000"/>
<rect class="ce" x="1613" y="671" width="1" height="1" fill="#000"/>
<rect class="ce" x="1613" y="702" width="1" height="1" fill="#000"/>
<rect class="ce" x="1613" y="707" width="1" height="1" fill="#000"/>
<rect class="ce" x="1613" y="798" width="1" height="1" fill="#000"/>
<g class="ce" stroke="#000" stroke-width="1" stroke-dasharray="3,3">
<line x1="6" y1="725.5" x2="1612" y2="725.5"/>
<line x1="6" y1="752.5" x2="1612" y2="752.5"/>
<line x1="6" y1="785.5" x2="1612" y2="785.5"/>
</g>
<polyline class="ce" points="5.5,747.1 21.5,745.1 40.5,744.9 53.5,741.1 69.5,735.8 74.5,735.8 82.0,737.9 150.5,737.9 165.5,732.1 197.5,732.1 200.5,732.9 213.5,732.8 222.5,731.8 229.5,731.8 245.5,739.9 250.5,739.9 261.5,736.9 277.5,733.8 293.5,733.8 305.5,737.6 309.5,737.9 316.5,737.9 325.5,736.4 341.5,733.3 357.5,727.8 362.5,727.8 366.5,728.8 373.5,728.8 389.5,728.8 400.5,733.3 405.5,736.9 421.5,736.9 424.5,735.6 437.5,735.6 439.5,736.9 453.5,736.9 469.5,744.9 501.5,744.9 517.5,752.9 550.5,752.9 564.5,757.9 599.5,757.9 616.0,751.9 629.5,751.9 645.5,763.9 649.5,763.9 658.5,761.9 693.5,761.9 708.5,755.9 713.5,755.9 718.5,757.4 725.5,757.9 729.5,757.4 742.5,748.9 781.5,748.9 783.5,749.6 799.0,749.6 800.5,748.6 807.5,748.6 821.5,758.4 837.5,762.7 873.2,762.7 885.5,759.4 897.5,757.0 901.5,756.9 913.5,761.0 917.5,761.7 921.5,761.0 933.5,758.9 937.5,758.9 945.5,760.7 949.5,760.9 955.5,760.7 965.5,759.4 981.5,758.4 997.5,758.2 1013.5,760.9 1029.5,771.2 1045.5,763.4 1061.5,760.9 1077.5,760.9 1089.5,763.9 1093.5,764.2 1097.5,763.9 1109.5,758.9 1112.5,757.9 1125.5,756.7 1141.5,751.1 1157.5,750.7 1159.5,749.9 1173.5,749.9 1189.5,742.9 1205.5,742.9 1221.5,751.1 1253.5,751.1" fill="none" stroke="#1e90ff" stroke-width="2" stroke-linejoin="round"/>
<text class="ax" x="9.3" y="718" textLength="67.7" lengthAdjust="spacingAndGlyphs">RSI(14) 52.9546</text>
<text class="ax" x="1616.2" y="716.0" textLength="14.6" lengthAdjust="spacingAndGlyphs">100</text>
<text class="ax" x="1615.2" y="729.3" textLength="9.6" lengthAdjust="spacingAndGlyphs">80</text>
<text class="ax" x="1615.2" y="756.1" textLength="9.6" lengthAdjust="spacingAndGlyphs">50</text>
<text class="ax" x="1615.6" y="788.7" textLength="9.4" lengthAdjust="spacingAndGlyphs">15</text>
<text class="ax" x="1616.0" y="796.7" textLength="4.6" lengthAdjust="spacingAndGlyphs">0</text>
<g id="taxis">
<rect class="ce" x="5" y="800" width="1" height="3" fill="#000"/>
<text class="dt" x="4.0" y="812.2" textLength="45.4" lengthAdjust="spacingAndGlyphs">3 Oct 2022</text>
<rect class="ce" x="69" y="800" width="1" height="3" fill="#000"/>
<text class="dt" x="68.3" y="812.2" textLength="48.6" lengthAdjust="spacingAndGlyphs">4 Oct 12:00</text>
<rect class="ce" x="133" y="800" width="1" height="3" fill="#000"/>
<text class="dt" x="132.3" y="812.2" textLength="48.6" lengthAdjust="spacingAndGlyphs">5 Oct 04:00</text>
<rect class="ce" x="197" y="800" width="1" height="3" fill="#000"/>
<text class="dt" x="196.3" y="812.2" textLength="48.6" lengthAdjust="spacingAndGlyphs">5 Oct 20:00</text>
<rect class="ce" x="261" y="800" width="1" height="3" fill="#000"/>
<text class="dt" x="260.3" y="812.2" textLength="48.6" lengthAdjust="spacingAndGlyphs">6 Oct 12:00</text>
<rect class="ce" x="325" y="800" width="1" height="3" fill="#000"/>
<text class="dt" x="324.3" y="812.2" textLength="48.6" lengthAdjust="spacingAndGlyphs">7 Oct 04:00</text>
<rect class="ce" x="389" y="800" width="1" height="3" fill="#000"/>
<text class="dt" x="388.3" y="812.2" textLength="48.6" lengthAdjust="spacingAndGlyphs">7 Oct 20:00</text>
<rect class="ce" x="453" y="800" width="1" height="3" fill="#000"/>
<text class="dt" x="452.3" y="812.2" textLength="53.8" lengthAdjust="spacingAndGlyphs">10 Oct 12:00</text>
<rect class="ce" x="517" y="800" width="1" height="3" fill="#000"/>
<text class="dt" x="516.3" y="812.2" textLength="53.8" lengthAdjust="spacingAndGlyphs">11 Oct 04:00</text>
<rect class="ce" x="581" y="800" width="1" height="3" fill="#000"/>
<text class="dt" x="580.3" y="812.2" textLength="53.8" lengthAdjust="spacingAndGlyphs">11 Oct 20:00</text>
<rect class="ce" x="645" y="800" width="1" height="3" fill="#000"/>
<text class="dt" x="644.3" y="812.2" textLength="53.8" lengthAdjust="spacingAndGlyphs">12 Oct 12:00</text>
<rect class="ce" x="709" y="800" width="1" height="3" fill="#000"/>
<text class="dt" x="708.3" y="812.2" textLength="53.8" lengthAdjust="spacingAndGlyphs">13 Oct 04:00</text>
<rect class="ce" x="773" y="800" width="1" height="3" fill="#000"/>
<text class="dt" x="772.3" y="812.2" textLength="53.8" lengthAdjust="spacingAndGlyphs">13 Oct 20:00</text>
<rect class="ce" x="837" y="800" width="1" height="3" fill="#000"/>
<text class="dt" x="836.3" y="812.2" textLength="53.8" lengthAdjust="spacingAndGlyphs">14 Oct 12:00</text>
<rect class="ce" x="901" y="800" width="1" height="3" fill="#000"/>
<text class="dt" x="900.3" y="812.2" textLength="53.8" lengthAdjust="spacingAndGlyphs">17 Oct 04:00</text>
<rect class="ce" x="965" y="800" width="1" height="3" fill="#000"/>
<text class="dt" x="964.3" y="812.2" textLength="53.8" lengthAdjust="spacingAndGlyphs">17 Oct 20:00</text>
<rect class="ce" x="1029" y="800" width="1" height="3" fill="#000"/>
<text class="dt" x="1028.3" y="812.2" textLength="53.8" lengthAdjust="spacingAndGlyphs">18 Oct 12:00</text>
<rect class="ce" x="1093" y="800" width="1" height="3" fill="#000"/>
<text class="dt" x="1092.3" y="812.2" textLength="53.8" lengthAdjust="spacingAndGlyphs">19 Oct 04:00</text>
<rect class="ce" x="1157" y="800" width="1" height="3" fill="#000"/>
<text class="dt" x="1156.3" y="812.2" textLength="53.8" lengthAdjust="spacingAndGlyphs">19 Oct 20:00</text>
<rect class="ce" x="1221" y="800" width="1" height="3" fill="#000"/>
<text class="dt" x="1220.3" y="812.2" textLength="53.8" lengthAdjust="spacingAndGlyphs">20 Oct 12:00</text>
</g>
<g id="arrow"><line x1="1151.7" y1="513.8" x2="1287" y2="419.4" stroke="#ed1c24" stroke-width="3"/>
<polygon points="1300.3,409.6 1281,412.7 1290.9,426.9" fill="#ed1c24"/></g>
</svg></div>
</body></html>
